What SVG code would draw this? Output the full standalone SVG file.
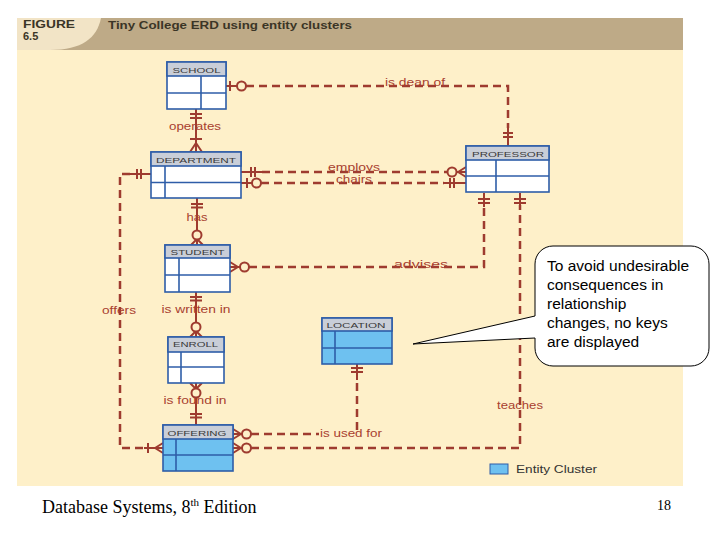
<svg xmlns="http://www.w3.org/2000/svg" width="720" height="540" viewBox="0 0 720 540">
<style>
.bg{fill:#FEF0C9}
.ent rect.box{fill:#FFFFFF;stroke:#2E5DA8;stroke-width:1.6}
.ent rect.hd{fill:#C9CED8;stroke:#2E5DA8;stroke-width:1.6}
.ent.cl rect.box{fill:#6EC1F0}
.ent line{stroke:#2E5DA8;stroke-width:1.6}
.et{font-family:"Liberation Sans",Arial,sans-serif;font-size:8px;fill:#3a3a3a;text-anchor:middle}
.dash{fill:none;stroke:#9E3B2F;stroke-width:2.5;stroke-dasharray:8 5}
.sol{fill:none;stroke:#9E3B2F;stroke-width:2}
.ring{fill:#FEF0C9;stroke:#9E3B2F;stroke-width:2}
.lbl{font-family:"Liberation Sans",Arial,sans-serif;font-size:10px;fill:#A8402F;text-anchor:middle}
</style>
<rect x="0" y="0" width="720" height="540" fill="#FFFFFF"/>
<rect class="bg" x="17" y="18" width="666" height="468"/>
<rect x="17" y="18" width="666" height="32" fill="#BEAA87"/>
<path d="M17,18 H101 C97,38 82,50 50,50 H17 Z" fill="#F2E4C6"/>
<text x="23" y="28" font-family="Liberation Sans,Arial,sans-serif" font-weight="bold" font-size="10" fill="#3b3526" textLength="52" lengthAdjust="spacingAndGlyphs">FIGURE</text>
<text x="23" y="40" font-family="Liberation Sans,Arial,sans-serif" font-weight="bold" font-size="11" fill="#3b3526">6.5</text>
<text x="108" y="29" font-family="Liberation Sans,Arial,sans-serif" font-weight="bold" font-size="11" fill="#3b3526" textLength="244" lengthAdjust="spacingAndGlyphs">Tiny College ERD using entity clusters</text>

<g id="connectors">
  <!-- is dean of -->
  <path class="sol" d="M226,86 H237 M230,81 V91"/>
  <circle class="ring" cx="241.5" cy="86" r="4.5"/>
  <path class="dash" d="M246,86 H508 V128"/>
  <path class="sol" d="M508,126 V146 M503,133 H513 M503,137 H513"/>
  <text class="lbl" x="415" y="86" textLength="60" lengthAdjust="spacingAndGlyphs">is dean of</text>
  <!-- operates -->
  <path class="sol" d="M196,109 V152 M190,114 H202 M190,118 H202 M190,139 H202 M196,143 L190,152 M196,143 L202,152"/>
  <text class="lbl" x="195" y="130" textLength="52" lengthAdjust="spacingAndGlyphs">operates</text>
  <!-- employs -->
  <path class="sol" d="M241,172 H262 M251,167 V177 M255,167 V177"/>
  <path class="dash" d="M262,172 H447"/>
  <circle class="ring" cx="452" cy="172" r="4.5"/>
  <path class="sol" d="M456.5,172 H466 M458,172 L466,167 M458,172 L466,177"/>
  <text class="lbl" x="354" y="171" textLength="52" lengthAdjust="spacingAndGlyphs">employs</text>
  <!-- chairs -->
  <path class="sol" d="M241,183 H252 M247,178 V188"/>
  <circle class="ring" cx="256.5" cy="183" r="4.5"/>
  <path class="dash" d="M261,183 H444"/>
  <path class="sol" d="M444,183 H466 M450,178 V188 M454,178 V188"/>
  <text class="lbl" x="354" y="183" textLength="36" lengthAdjust="spacingAndGlyphs">chairs</text>
  <!-- has -->
  <path class="sol" d="M197,198 V230.5 M191,204 H203 M191,207.5 H203 M197,239.5 V245 M197,239 L191,245 M197,239 L203,245"/>
  <circle class="ring" cx="197" cy="235" r="4.5"/>
  <text class="lbl" x="197" y="221" textLength="21" lengthAdjust="spacingAndGlyphs">has</text>
  <!-- advises -->
  <path class="sol" d="M230,267 H240 M238,267 L230,262 M238,267 L230,272"/>
  <circle class="ring" cx="244.5" cy="267" r="4.5"/>
  <path class="dash" d="M249,267 H484 V205"/>
  <path class="sol" d="M484,207 V193 M478,199 H490 M478,203 H490"/>
  <text class="lbl" x="421" y="268" textLength="54" lengthAdjust="spacingAndGlyphs">advises</text>
  <!-- is written in -->
  <path class="sol" d="M196,292 V322.5 M190,297 H202 M190,300.5 H202 M196,331.5 V337 M196,331 L190,337 M196,331 L202,337"/>
  <circle class="ring" cx="196" cy="327" r="4.5"/>
  <text class="lbl" x="196" y="313" textLength="69" lengthAdjust="spacingAndGlyphs">is written in</text>
  <!-- is found in -->
  <path class="sol" d="M196,383 V388.5 M196,389 L190,383 M196,389 L202,383 M196,397.5 V425 M190,414 H202 M190,417.5 H202"/>
  <circle class="ring" cx="196" cy="393" r="4.5"/>
  <text class="lbl" x="195" y="404" textLength="63" lengthAdjust="spacingAndGlyphs">is found in</text>
  <!-- offers -->
  <path class="sol" d="M151,174 H130 M137,169 V179 M141,169 V179"/>
  <path class="dash" d="M130,174 H120 V448 H146"/>
  <path class="sol" d="M144,448 H163 M148,443 V453 M155,448 L163,443 M155,448 L163,453"/>
  <text class="lbl" x="119" y="314" textLength="34" lengthAdjust="spacingAndGlyphs">offers</text>
  <!-- is used for -->
  <path class="sol" d="M233,434 H242 M241,434 L233,429 M241,434 L233,439"/>
  <circle class="ring" cx="246.5" cy="434" r="4.5"/>
  <path class="dash" d="M251,434 H319 M357,430 V378"/>
  <path class="sol" d="M357,380 V364 M351,368 H363 M351,372 H363"/>
  <text class="lbl" x="351" y="437" textLength="62" lengthAdjust="spacingAndGlyphs">is used for</text>
  <!-- teaches -->
  <path class="sol" d="M233,448 H242 M241,448 L233,443 M241,448 L233,453"/>
  <circle class="ring" cx="246.5" cy="448" r="4.5"/>
  <path class="dash" d="M251,448 H520 V205"/>
  <path class="sol" d="M520,207 V193 M514,199 H526 M514,203 H526"/>
  <text class="lbl" x="520" y="409" textLength="46" lengthAdjust="spacingAndGlyphs">teaches</text>
</g>

<g id="school" class="ent">
  <rect class="box" x="167" y="62" width="59" height="47"/>
  <rect class="hd" x="167" y="62" width="59" height="14"/>
  <line x1="167" y1="93" x2="226" y2="93"/><line x1="201" y1="76" x2="201" y2="109"/>
  <text class="et" x="196.5" y="72.5" textLength="48" lengthAdjust="spacingAndGlyphs">SCHOOL</text>
</g>
<g id="department" class="ent">
  <rect class="box" x="151" y="152" width="90" height="46"/>
  <rect class="hd" x="151" y="152" width="90" height="14"/>
  <line x1="151" y1="182.5" x2="241" y2="182.5"/><line x1="165" y1="166" x2="165" y2="198"/>
  <text class="et" x="196" y="162.5" textLength="80" lengthAdjust="spacingAndGlyphs">DEPARTMENT</text>
</g>
<g id="professor" class="ent">
  <rect class="box" x="466" y="146" width="83" height="46"/>
  <rect class="hd" x="466" y="146" width="83" height="14"/>
  <line x1="466" y1="176" x2="549" y2="176"/><line x1="496" y1="160" x2="496" y2="192"/>
  <text class="et" x="508" y="156.5" textLength="72" lengthAdjust="spacingAndGlyphs">PROFESSOR</text>
</g>
<g id="student" class="ent">
  <rect class="box" x="165" y="245" width="65" height="47"/>
  <rect class="hd" x="165" y="245" width="65" height="13"/>
  <line x1="165" y1="275" x2="230" y2="275"/><line x1="179" y1="258" x2="179" y2="292"/>
  <text class="et" x="197.5" y="254.5" textLength="54" lengthAdjust="spacingAndGlyphs">STUDENT</text>
</g>
<g id="enroll" class="ent">
  <rect class="box" x="168" y="337" width="56" height="46"/>
  <rect class="hd" x="168" y="337" width="56" height="15"/>
  <line x1="168" y1="367" x2="224" y2="367"/><line x1="181" y1="352" x2="181" y2="383"/>
  <text class="et" x="195.5" y="347" textLength="45" lengthAdjust="spacingAndGlyphs">ENROLL</text>
</g>
<g id="location" class="ent cl">
  <rect class="box" x="322" y="318" width="70" height="46"/>
  <rect class="hd" x="322" y="318" width="70" height="13"/>
  <line x1="322" y1="348" x2="392" y2="348"/><line x1="335" y1="331" x2="335" y2="364"/>
  <text class="et" x="356" y="327.5" textLength="59" lengthAdjust="spacingAndGlyphs">LOCATION</text>
</g>
<g id="offering" class="ent cl">
  <rect class="box" x="163" y="425" width="70" height="46"/>
  <rect class="hd" x="163" y="425" width="70" height="14"/>
  <line x1="163" y1="455" x2="233" y2="455"/><line x1="176" y1="439" x2="176" y2="471"/>
  <text class="et" x="197" y="435.5" textLength="59" lengthAdjust="spacingAndGlyphs">OFFERING</text>
</g>

<g id="legend">
  <rect x="490" y="464" width="18" height="10" fill="#6EC1F0" stroke="#2E5DA8" stroke-width="1"/>
  <text x="516" y="473" font-family="Liberation Sans,Arial,sans-serif" font-size="10" fill="#333" textLength="81" lengthAdjust="spacingAndGlyphs">Entity Cluster</text>
</g>

<g id="callout">
  <path d="M553,246 H691 A18,18 0 0 1 709,264 V348 A18,18 0 0 1 691,366 H553 A18,18 0 0 1 535,348 V338 L413,344 L535,316 V264 A18,18 0 0 1 553,246 Z" fill="#FFFFFF" stroke="#000000" stroke-width="1"/>
  <g font-family="Liberation Sans,Arial,sans-serif" font-size="15.5" fill="#000">
    <text x="547" y="271">To avoid undesirable</text>
    <text x="547" y="290">consequences in</text>
    <text x="547" y="309">relationship</text>
    <text x="547" y="328">changes, no keys</text>
    <text x="547" y="347">are displayed</text>
  </g>
</g>

<text x="42" y="513" font-family="Liberation Serif,Times New Roman,serif" font-size="18" fill="#000">Database Systems, 8<tspan font-size="11" dy="-7">th</tspan><tspan dy="7"> Edition</tspan></text>
<text x="657" y="510" font-family="Liberation Serif,Times New Roman,serif" font-size="14" fill="#000">18</text>
</svg>
